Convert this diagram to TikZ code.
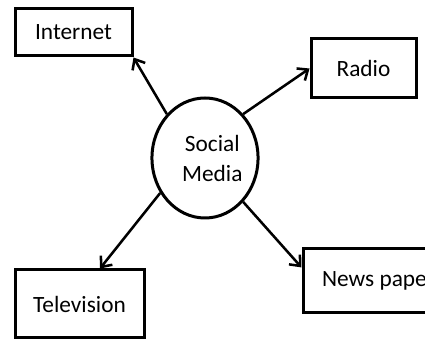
\documentclass[tikz,border=0pt]{standalone}
\usepackage{fontspec}
\setmainfont{Carlito}
\usetikzlibrary{shapes.geometric,arrows.meta}

\begin{document}
\begin{tikzpicture}[
		x=0.75pt, y=-0.75pt,
		font=\fontsize{17.5}{22.5}\selectfont,
		box/.style={rectangle, draw, line width=2.25pt, inner sep=0pt, align=center},
		hub/.style={ellipse, draw, line width=2.25pt, inner sep=0pt, minimum width=106*0.75pt, minimum height=120*0.75pt, align=center},
		arr/.style={-{Straight Barb[length=6.5pt,width=11pt,line width=1.9pt]}, line width=1.9pt}
		]
		\clip (0,0) rectangle (425,341);
		\node[hub] (sm) at (205,158) {\hspace*{11pt}Social\\\hspace*{11pt}Media};
		\node[box, minimum width=117*0.75pt, minimum height=47*0.75pt] (inet) at (73.5,32.5) {Internet};
		\node[box, minimum width=105*0.75pt, minimum height=59*0.75pt] (radio) at (363.5,68.5) {Radio};
		\node[box, minimum width=129*0.75pt, minimum height=68*0.75pt] (tv) at (79.5,304) {Television};
		\node[box, minimum width=151*0.75pt, minimum height=64*0.75pt] (np) at (378.5,281) {News paper};
		
		\draw[arr] (sm.131) -- (inet.south east);
		\draw[arr] (sm.49) -- (radio.west);
		\draw[arr] (sm.218) -- (tv.60);
		\draw[arr] (sm.311) -- (np.170);
	\end{tikzpicture}
\end{document}
